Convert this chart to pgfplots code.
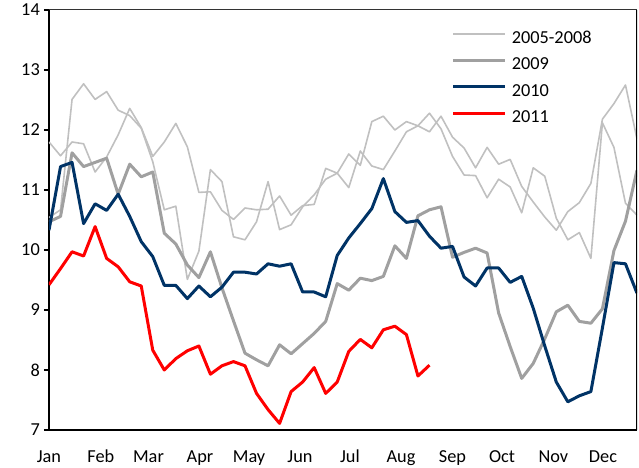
\documentclass[border=0pt]{standalone}
\usepackage{fontspec}
\setmainfont{Carlito}
\usepackage{pgfplots}
\pgfplotsset{compat=1.18}
\definecolor{lightg}{HTML}{C0C0C0}
\definecolor{midg}{HTML}{A0A0A0}
\definecolor{navy}{HTML}{003366}
\definecolor{redl}{HTML}{FF0000}
\begin{document}
\begin{tikzpicture}
\begin{axis}[
  scale only axis, width=588bp, height=420bp,
  xmin=0, xmax=51, ymin=7, ymax=14,
  ytick={7,8,9,10,11,12,13,14},
  xtick={0,4.5,8.63,13.1,17.35,21.77,26.1,30.53,35.0,39.29,43.75,48.05},
  xticklabels={Jan,Feb,Mar,Apr,May,Jun,Jul,Aug,Sep,Oct,Nov,Dec},
  axis x line*=bottom, axis y line*=left,
  axis line style={black, line width=2bp},
  x tick style={draw=none},
  y tick style={black, line width=1.2bp},
  tick align=outside, major tick length=5bp,
  /pgf/number format/assume math mode=true,
  tick label style={font=\fontsize{18.3bp}{21bp}\selectfont},
  yticklabel style={anchor=east, inner sep=0pt, xshift=-4bp},
  xticklabel style={anchor=base, inner sep=0pt, yshift=-27bp},
  legend style={draw=none, fill=none, at={(0.685,0.95)}, anchor=north west,
    inner sep=0pt, outer sep=0pt, row sep=10.5bp, column sep=5bp,
    nodes={inner sep=0pt, text height=12.5bp, text depth=3.5bp},
    font=\fontsize{18.3bp}{21bp}\selectfont},
  legend cell align=left,
  legend image code/.code={\draw[#1] (0bp,5bp) -- (52bp,5bp);},
  every axis plot/.append style={line join=round},
]
\addplot[lightg, line width=1.6bp] table[x=x,y=y] {
x y
0 11.80
1 11.57
2 11.80
3 11.77
4 11.30
5 11.55
6 11.92
7 12.36
8 12.04
9 11.56
10 11.80
11 12.11
12 11.72
13 10.96
14 10.97
15 10.66
16 10.51
17 10.70
18 10.67
19 10.68
20 10.90
21 10.58
22 10.74
23 10.76
24 11.36
25 11.28
26 11.60
27 11.41
28 12.14
29 12.23
30 12.00
31 12.14
32 12.07
33 11.97
34 12.23
35 11.88
36 11.70
37 11.37
38 11.71
39 11.43
40 11.51
41 11.06
42 10.80
43 10.55
44 10.33
45 10.64
46 10.79
47 11.11
48 12.18
49 12.44
50 12.75
51 11.85
};
\addlegendentry{2005-2008}
\addplot[lightg, line width=1.6bp, forget plot] table[x=x,y=y] {
x y
0 10.54
1 10.67
2 12.51
3 12.77
4 12.51
5 12.64
6 12.33
7 12.24
8 12.03
9 11.47
10 10.67
11 10.73
12 9.51
13 9.98
14 11.34
15 11.14
16 10.22
17 10.17
18 10.47
19 11.14
20 10.34
21 10.42
22 10.72
23 10.92
24 11.18
25 11.28
26 11.04
27 11.65
28 11.40
29 11.34
30 11.65
31 11.97
32 12.07
33 12.28
34 12.02
35 11.56
36 11.25
37 11.24
38 10.87
39 11.18
40 11.05
41 10.62
42 11.37
43 11.23
44 10.53
45 10.17
46 10.29
47 9.86
48 12.12
49 11.71
50 10.78
51 10.58
};
\addplot[midg, line width=3bp] table[x=x,y=y] {
x y
0 10.47
1 10.56
2 11.62
3 11.39
4 11.46
5 11.53
6 10.93
7 11.43
8 11.22
9 11.30
10 10.28
11 10.10
12 9.75
13 9.54
14 9.97
15 9.37
16 8.82
17 8.28
18 8.17
19 8.07
20 8.42
21 8.27
22 8.44
23 8.61
24 8.81
25 9.44
26 9.33
27 9.53
28 9.49
29 9.56
30 10.07
31 9.86
32 10.57
33 10.67
34 10.72
35 9.88
36 9.96
37 10.03
38 9.95
39 8.95
40 8.39
41 7.86
42 8.11
43 8.52
44 8.97
45 9.08
46 8.81
47 8.78
48 9.02
49 9.99
50 10.48
51 11.33
};
\addlegendentry{2009}
\addplot[navy, line width=3bp] table[x=x,y=y] {
x y
0 10.33
1 11.39
2 11.46
3 10.44
4 10.77
5 10.66
6 10.93
7 10.56
8 10.14
9 9.89
10 9.41
11 9.41
12 9.19
13 9.40
14 9.22
15 9.38
16 9.63
17 9.63
18 9.60
19 9.77
20 9.73
21 9.77
22 9.30
23 9.30
24 9.22
25 9.91
26 10.20
27 10.44
28 10.69
29 11.19
30 10.64
31 10.46
32 10.49
33 10.23
34 10.03
35 10.06
36 9.55
37 9.40
38 9.70
39 9.70
40 9.46
41 9.56
42 9.03
43 8.40
44 7.80
45 7.47
46 7.57
47 7.64
48 8.70
49 9.79
50 9.77
51 9.28
};
\addlegendentry{2010}
\addplot[redl, line width=3bp] table[x=x,y=y] {
x y
0 9.42
1 9.69
2 9.97
3 9.90
4 10.39
5 9.86
6 9.72
7 9.47
8 9.40
9 8.33
10 8.00
11 8.19
12 8.32
13 8.40
14 7.93
15 8.07
16 8.14
17 8.07
18 7.61
19 7.34
20 7.11
21 7.64
22 7.80
23 8.04
24 7.61
25 7.80
26 8.31
27 8.51
28 8.37
29 8.67
30 8.73
31 8.59
32 7.90
33 8.08
};
\addlegendentry{2011}
\draw[black!80, line width=1bp] (rel axis cs:0,1) -- (rel axis cs:1,1);
\draw[black, line width=1.5bp] (rel axis cs:1,1) -- (rel axis cs:1,0);
\end{axis}
\pgfresetboundingbox
\useasboundingbox (-49bp,-38bp) rectangle (590bp,430bp);
\end{tikzpicture}
\end{document}
